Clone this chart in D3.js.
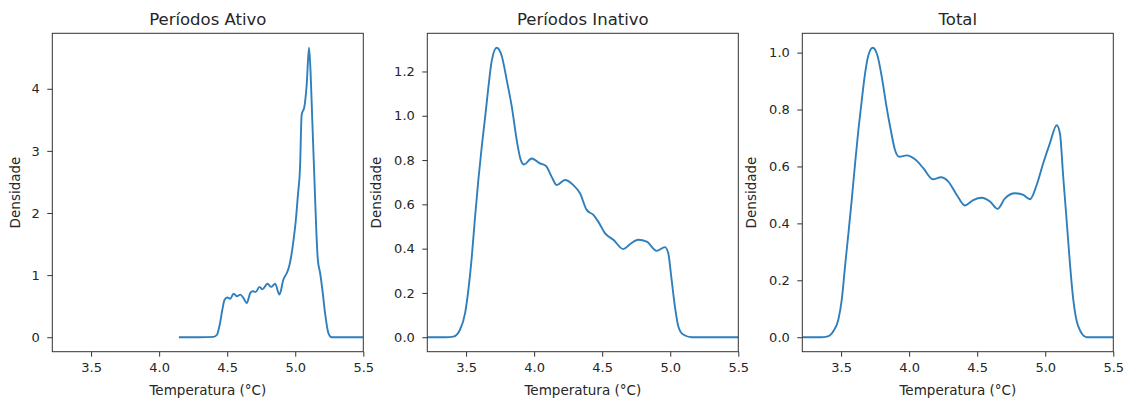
<!DOCTYPE html>
<html>
<head>
<meta charset="utf-8">
<script src="https://cdn.jsdelivr.net/npm/d3@7"></script>
<style>
  body { margin: 0; background: #fff; }
  svg { display: block; }
</style>
</head>
<body>
<svg id="chart" width="1129" height="399"></svg>
<script>
// KDE curves, x = temperatura (°C), y = densidade
const tempAtivo = [4.145, 4.30, 4.40, 4.425, 4.445, 4.465, 4.48, 4.5, 4.523, 4.547, 4.571, 4.596, 4.62, 4.644,
  4.669, 4.688, 4.71, 4.737, 4.759, 4.796, 4.823, 4.852, 4.884, 4.913, 4.937, 4.955, 4.97, 4.986, 5.005,
  5.02, 5.035, 5.047, 5.067, 5.084, 5.101, 5.112, 5.125, 5.14, 5.155, 5.166, 5.183, 5.199, 5.219, 5.243,
  5.267, 5.5];
const densAtivo = [0, 0, 0.005, 0.04, 0.2, 0.45, 0.6, 0.64, 0.62, 0.70, 0.66, 0.686, 0.63, 0.55,
  0.71, 0.74, 0.73, 0.81, 0.77, 0.86, 0.81, 0.86, 0.686, 0.93, 1.03, 1.14, 1.3, 1.54, 1.9,
  2.3, 2.72, 3.58, 3.71, 4.06, 4.66, 4.3, 3.5, 2.6, 1.7, 1.25, 1.03, 0.77, 0.39, 0.07,
  0, 0];

const tempInativo = [3.215, 3.35, 3.407, 3.456, 3.493, 3.517, 3.542, 3.566, 3.59, 3.615, 3.64, 3.664, 3.689,
  3.725, 3.762, 3.799, 3.836, 3.872, 3.902, 3.926, 3.982, 4.043, 4.087, 4.129, 4.166, 4.227, 4.288, 4.337,
  4.386, 4.435, 4.471, 4.52, 4.582, 4.655, 4.704, 4.765, 4.827, 4.9, 4.961, 4.985, 5.01, 5.034, 5.059,
  5.095, 5.157, 5.5];
const densInativo = [0, 0, 0.003, 0.035, 0.11, 0.215, 0.364, 0.544, 0.71, 0.86, 0.994, 1.13, 1.25,
  1.307, 1.27, 1.16, 1.04, 0.89, 0.80, 0.78, 0.807, 0.785, 0.773, 0.724, 0.687, 0.71, 0.687, 0.65,
  0.575, 0.552, 0.522, 0.47, 0.44, 0.398, 0.42, 0.44, 0.432, 0.39, 0.407, 0.38, 0.26, 0.14, 0.05,
  0.012, 0, 0];

const tempTotal = [3.215, 3.35, 3.395, 3.443, 3.48, 3.505, 3.529, 3.554, 3.578, 3.603, 3.627, 3.652, 3.676,
  3.7, 3.733, 3.767, 3.799, 3.83, 3.865, 3.896, 3.928, 3.982, 4.043, 4.104, 4.173, 4.233, 4.288, 4.35,
  4.41, 4.471, 4.533, 4.594, 4.65, 4.704, 4.778, 4.839, 4.888, 4.937, 4.985, 5.034, 5.084, 5.108, 5.132,
  5.157, 5.181, 5.206, 5.242, 5.304, 5.5];
const densTotal = [0, 0, 0.002, 0.021, 0.062, 0.132, 0.249, 0.366, 0.482, 0.611, 0.728, 0.833, 0.926,
  0.99, 1.017, 0.99, 0.915, 0.821, 0.728, 0.658, 0.634, 0.639, 0.625, 0.594, 0.555, 0.562, 0.547, 0.5,
  0.463, 0.482, 0.49, 0.477, 0.451, 0.488, 0.506, 0.5, 0.485, 0.535, 0.611, 0.681, 0.745, 0.716, 0.564,
  0.412, 0.261, 0.132, 0.039, 0, 0];

const titles = ['Períodos Ativo', 'Períodos Inativo', 'Total'];
const xTicks = [3.5, 4.0, 4.5, 5.0, 5.5];
const yTicksAtivo = [0, 1, 2, 3, 4];
const yTicksInativo = [0.0, 0.2, 0.4, 0.6, 0.8, 1.0, 1.2];
const yTicksTotal = [0.0, 0.2, 0.4, 0.6, 0.8, 1.0];
const xDomain = [3.215, 5.5];

const panels = [
  { title: titles[0], x: tempAtivo, y: densAtivo, yTicks: yTicksAtivo, fmt: d3.format('d') },
  { title: titles[1], x: tempInativo, y: densInativo, yTicks: yTicksInativo, fmt: d3.format('.1f') },
  { title: titles[2], x: tempTotal, y: densTotal, yTicks: yTicksTotal, fmt: d3.format('.1f') },
];

const FONT = '"DejaVu Sans", sans-serif';
const TXT = '#262626';
const LEFTS = [52.3, 427.3, 802.3];
const TOP = 33.3, W = 311, H = 318.4;
const svg = d3.select('#chart');

function styleAxis(a) {
  a.select('.domain').remove();
  a.selectAll('.tick line').attr('stroke', '#333');
  a.selectAll('.tick text')
    .style('font-family', FONT).style('font-size', '13px').attr('fill', TXT);
}

panels.forEach((p, i) => {
  const g = svg.append('g').attr('transform', `translate(${LEFTS[i]},${TOP})`);
  const pts = p.x.map((t, j) => ({ t, d: p.y[j] }));

  const x = d3.scaleLinear().domain(xDomain).range([0, W]);
  const yMax = d3.max(p.y), yMin = d3.min(p.y);
  const pad = (yMax - yMin) * 0.05;
  const y = d3.scaleLinear().domain([yMin - pad, yMax + pad]).range([H, 0]);

  g.append('defs').append('clipPath').attr('id', `clip${i}`)
    .append('rect').attr('width', W).attr('height', H);

  g.append('path')
    .datum(pts)
    .attr('clip-path', `url(#clip${i})`)
    .attr('fill', 'none')
    .attr('stroke', '#2f7fbd')
    .attr('stroke-width', 1.9)
    .attr('stroke-linejoin', 'round')
    .attr('d', d3.line().x(d => x(d.t)).y(d => y(d.d)).curve(d3.curveMonotoneX));

  g.append('g')
    .attr('transform', `translate(0,${H})`)
    .call(d3.axisBottom(x).tickValues(xTicks).tickFormat(d3.format('.1f'))
      .tickSize(5).tickPadding(6.5).tickSizeOuter(0))
    .call(styleAxis);

  g.append('g')
    .call(d3.axisLeft(y).tickValues(p.yTicks).tickFormat(p.fmt)
      .tickSize(5).tickPadding(7.5).tickSizeOuter(0))
    .call(styleAxis);

  // spines
  g.append('rect').attr('width', W).attr('height', H)
    .attr('fill', 'none').attr('stroke', '#333').attr('stroke-width', 1);

  g.append('text')
    .attr('x', W / 2).attr('y', -8)
    .attr('text-anchor', 'middle')
    .style('font-family', FONT).style('font-size', '16.5px').attr('fill', TXT)
    .text(p.title);

  g.append('text')
    .attr('x', W / 2).attr('y', H + 43)
    .attr('text-anchor', 'middle')
    .style('font-family', FONT).style('font-size', '13.5px').attr('fill', TXT)
    .text('Temperatura (°C)');

  g.append('text')
    .attr('transform', `translate(${i === 0 ? -32 : -46},${H / 2}) rotate(-90)`)
    .attr('text-anchor', 'middle')
    .style('font-family', FONT).style('font-size', '13.5px').attr('fill', TXT)
    .text('Densidade');
});
</script>
</body>
</html>
